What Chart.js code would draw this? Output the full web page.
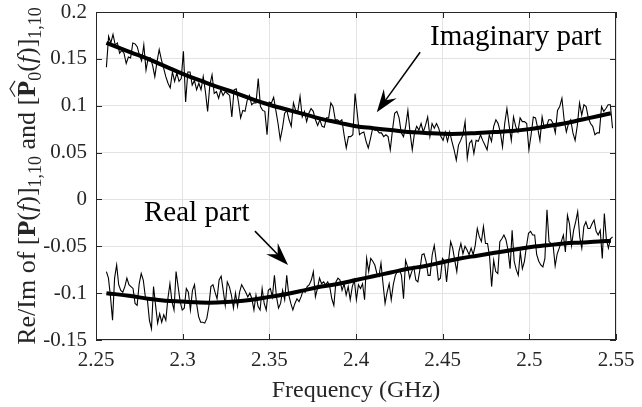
<!DOCTYPE html>
<html>
<head>
<meta charset="utf-8">
<script src="https://cdn.jsdelivr.net/npm/chart.js@4.4.1/dist/chart.umd.min.js"></script>
<style>
  html, body { margin: 0; padding: 0; background: #fff; }
  #wrap { width: 642px; height: 407px; }
</style>
</head>
<body>
<div id="wrap"><canvas id="c" width="642" height="407"></canvas></div>
<script>
var xTicks = [2.25, 2.3, 2.35, 2.4, 2.45, 2.5, 2.55];
var yTicks = [-0.15, -0.1, -0.05, 0, 0.05, 0.1, 0.15, 0.2];

// measured samples run evenly from noisyStart to noisyEnd (GHz)
var noisyStart = 2.256, noisyEnd = 2.548;

var imagNoisy = [
  0.141,0.174,0.167,0.176,0.165,0.167,0.156,0.159,0.156,0.145,0.152,0.151,0.167,0.166,0.163,0.154,0.148,0.165,0.138,0.151,
  0.151,0.143,0.131,0.147,0.160,0.149,0.140,0.131,0.124,0.119,0.136,0.126,0.135,0.126,0.129,0.158,0.104,0.136,0.136,0.122,
  0.127,0.117,0.124,0.117,0.131,0.115,0.094,0.122,0.133,0.113,0.115,0.108,0.117,0.111,0.115,
  0.113,0.111,0.088,0.117,0.118,0.104,0.087,0.095,0.094,0.106,0.111,0.101,0.103,0.103,0.129,0.099,0.095,0.094,0.069,0.104,
  0.103,0.109,0.095,0.081,0.064,0.076,0.092,0.095,0.085,0.078,0.103,0.095,0.094,0.110,0.088,0.094,0.083,0.092,0.097,0.094,
  0.085,0.079,0.085,0.078,0.077,0.087,0.087,0.103,0.099,0.085,0.085,0.083,0.085,0.069,0.055,0.067,
  0.067,0.069,0.113,0.092,0.069,0.071,0.072,0.062,0.055,0.065,0.076,0.074,0.074,0.071,0.071,0.067,0.069,0.067,0.053,0.074,
  0.092,0.094,0.087,0.071,0.067,0.078,0.095,0.071,0.053,0.071,0.078,0.074,0.081,0.072,0.079,0.088,0.067,0.081,0.076,0.081,
  0.076,0.067,0.063,0.072,0.062,0.072,0.062,0.053,0.042,0.058,0.063,0.069,0.083,0.044,0.060,0.063,0.049,0.063,
  0.062,0.069,0.063,0.058,0.053,0.069,0.062,0.078,0.085,0.081,0.072,0.056,0.081,0.097,0.079,0.063,0.088,0.078,0.072,0.087,
  0.083,0.083,0.081,0.053,0.069,0.088,0.087,0.076,0.063,0.088,0.076,0.078,0.085,0.085,0.081,0.071,0.095,0.099,0.108,0.085,
  0.072,0.081,0.085,0.071,0.063,0.079,0.103,0.090,0.101,0.099,0.087,0.081,0.078,0.069,0.071,0.071,0.099,0.094,0.097,0.101,
  0.101,0.076
];

var realNoisy = [
  -0.077,-0.084,-0.104,-0.129,-0.084,-0.070,-0.091,-0.097,-0.099,-0.093,-0.084,-0.091,-0.093,-0.095,-0.111,-0.113,-0.090,-0.079,-0.086,-0.104,
  -0.107,-0.129,-0.138,-0.093,-0.113,-0.132,-0.122,-0.131,-0.123,-0.129,-0.106,-0.090,-0.109,-0.118,-0.077,-0.093,-0.109,-0.118,-0.116,-0.095,
  -0.099,-0.118,-0.097,-0.091,-0.111,-0.125,-0.131,-0.131,-0.132,-0.127,-0.114,-0.093,-0.091,-0.099,-0.106,-0.086,-0.082,-0.097,-0.113,-0.088,
  -0.093,-0.102,-0.116,
  -0.100,-0.114,-0.099,-0.091,-0.095,-0.099,-0.104,-0.100,-0.106,-0.118,-0.102,-0.114,-0.118,-0.095,-0.111,-0.118,-0.097,-0.095,-0.104,-0.081,
  -0.104,-0.116,-0.111,-0.097,-0.107,-0.081,-0.102,-0.111,-0.118,-0.111,-0.106,-0.109,-0.104,-0.097,-0.099,-0.093,-0.091,-0.086,-0.077,-0.104,
  -0.095,-0.084,-0.090,-0.088,-0.091,-0.088,-0.093,-0.106,-0.113,-0.088,-0.084,-0.086,-0.097,-0.090,-0.102,-0.093,-0.107,-0.093,
  -0.086,-0.107,-0.091,-0.095,-0.090,-0.107,-0.063,-0.077,-0.063,-0.066,-0.070,-0.079,-0.082,-0.068,-0.090,-0.111,-0.099,-0.090,-0.107,-0.091,
  -0.081,-0.077,-0.075,-0.081,-0.106,-0.065,-0.072,-0.084,-0.077,-0.072,-0.086,-0.088,-0.075,-0.059,-0.058,-0.066,-0.081,-0.081,-0.059,-0.049,
  -0.066,-0.086,-0.084,-0.063,-0.066,-0.088,-0.066,-0.045,-0.052,-0.065,-0.077,-0.056,-0.047,-0.058,-0.050,-0.054,-0.059,-0.052,-0.059,-0.049,
  -0.031,-0.040,
  -0.045,-0.029,-0.047,-0.047,-0.061,-0.093,-0.065,-0.077,-0.079,-0.045,-0.042,-0.038,-0.043,-0.054,-0.074,-0.033,-0.066,-0.075,-0.081,-0.056,
  -0.074,-0.066,-0.050,-0.036,-0.034,-0.038,-0.038,-0.059,-0.066,-0.070,-0.072,-0.063,-0.011,-0.045,-0.047,-0.049,-0.071,-0.058,-0.052,-0.045,
  -0.038,-0.056,-0.017,-0.026,-0.049,-0.033,-0.024,-0.013,-0.040,-0.052,-0.029,-0.024,-0.031,-0.031,-0.026,-0.022,-0.034,-0.038,-0.033,-0.063,
  -0.015,-0.043,-0.052,-0.042,-0.040
];

// smooth model curves
var fitFreq = [2.256, 2.27, 2.28, 2.29, 2.30, 2.31, 2.32, 2.33, 2.34, 2.35, 2.36, 2.37, 2.38, 2.39, 2.40,
  2.41, 2.42, 2.43, 2.44, 2.45, 2.46, 2.47, 2.48, 2.49, 2.50, 2.51, 2.52, 2.53, 2.54, 2.547];
var imagFit = [0.167, 0.157, 0.150, 0.142, 0.134, 0.127, 0.120, 0.114, 0.107, 0.101, 0.096, 0.091, 0.086, 0.082, 0.078,
  0.076, 0.074, 0.072, 0.071, 0.070, 0.070, 0.071, 0.072, 0.073, 0.075, 0.078, 0.081, 0.085, 0.089, 0.092];
var realFit = [-0.100, -0.103, -0.106, -0.108, -0.109, -0.110, -0.110, -0.109, -0.107, -0.104, -0.101, -0.097, -0.093, -0.090, -0.086,
  -0.082, -0.078, -0.074, -0.071, -0.067, -0.063, -0.060, -0.057, -0.054, -0.051, -0.049, -0.047, -0.046, -0.045, -0.044];

var axisColor = '#262626';
var gridColor = '#e3e3e3';
var serif = '"Liberation Serif", "DejaVu Serif", serif';

// text + arrow annotations, in data units
var notes = [
  { text: 'Imaginary part', x: 2.4427, y: 0.1648, from: [2.437, 0.157], to: [2.412, 0.093] },
  { text: 'Real part', x: 2.2777, y: -0.0232, from: [2.3417, -0.0338], to: [2.3608, -0.070] }
];

var yTitleParts = [
  { t: 'Re/Im of [' }, { t: 'P', b: true }, { t: '(' }, { t: 'f', i: true }, { t: ')]' }, { t: '1,10', sub: true },
  { t: ' and [' }, { t: 'P', b: true, hat: true }, { t: '0', sub: true }, { t: '(' }, { t: 'f', i: true }, { t: ')]' },
  { t: '1,10', sub: true }
];

function spread(vals) {
  var step = (noisyEnd - noisyStart) / (vals.length - 1);
  return vals.map(function(v, i) { return { x: noisyStart + i * step, y: v }; });
}
function pairs(xs, ys) {
  return xs.map(function(x, i) { return { x: x, y: ys[i] }; });
}
function fmt(v) { return String(+v.toFixed(2)); }

function drawArrow(ctx, x1, y1, x2, y2) {
  var ang = Math.atan2(y2 - y1, x2 - x1);
  var L = 23, W = 16;
  var ux = Math.cos(ang), uy = Math.sin(ang), nx = -uy, ny = ux;
  ctx.beginPath();
  ctx.moveTo(x1, y1);
  ctx.lineTo(x2 - ux * L * 0.6, y2 - uy * L * 0.6);
  ctx.lineWidth = 1.5;
  ctx.stroke();
  ctx.beginPath();
  ctx.moveTo(x2, y2);
  ctx.lineTo(x2 - ux * L + nx * W / 2, y2 - uy * L + ny * W / 2);
  ctx.lineTo(x2 - ux * L * 0.65, y2 - uy * L * 0.65);
  ctx.lineTo(x2 - ux * L - nx * W / 2, y2 - uy * L - ny * W / 2);
  ctx.closePath();
  ctx.fill();
}

function drawYTitle(ctx, cx, cy) {
  function fontFor(p) {
    return (p.i ? 'italic ' : '') + (p.b ? 'bold ' : '') + (p.sub ? 18 : 26) + 'px ' + serif;
  }
  var total = 0;
  yTitleParts.forEach(function(p) {
    ctx.font = fontFor(p);
    p.w = ctx.measureText(p.t).width;
    total += p.w;
  });
  ctx.save();
  ctx.translate(cx, cy);
  ctx.rotate(-Math.PI / 2);
  ctx.fillStyle = axisColor;
  ctx.strokeStyle = axisColor;
  ctx.textAlign = 'left';
  ctx.textBaseline = 'alphabetic';
  var x = -total / 2;
  yTitleParts.forEach(function(p) {
    ctx.font = fontFor(p);
    ctx.fillText(p.t, x, p.sub ? 6 : 0);
    if (p.hat) {
      ctx.beginPath();
      ctx.lineWidth = 1.2;
      ctx.moveTo(x, -20);
      ctx.lineTo(x + p.w / 2, -25);
      ctx.lineTo(x + p.w, -20);
      ctx.stroke();
    }
    x += p.w;
  });
  ctx.restore();
}

var framePlugin = {
  id: 'frame',
  afterDatasetsDraw: function(chart) {
    var ctx = chart.ctx, a = chart.chartArea;
    var sx = chart.scales.x, sy = chart.scales.y;
    var tl = 6;
    ctx.save();
    ctx.strokeStyle = axisColor;
    ctx.lineWidth = 1;
    ctx.strokeRect(a.left + 0.5, a.top + 0.5, a.right - a.left - 1, a.bottom - a.top - 1);
    ctx.beginPath();
    xTicks.forEach(function(v) {
      var px = Math.round(sx.getPixelForValue(v)) + 0.5;
      ctx.moveTo(px, a.bottom); ctx.lineTo(px, a.bottom - tl);
      ctx.moveTo(px, a.top); ctx.lineTo(px, a.top + tl);
    });
    yTicks.forEach(function(v) {
      var py = Math.round(sy.getPixelForValue(v)) + 0.5;
      ctx.moveTo(a.left, py); ctx.lineTo(a.left + tl, py);
      ctx.moveTo(a.right, py); ctx.lineTo(a.right - tl, py);
    });
    ctx.stroke();

    ctx.fillStyle = '#000';
    ctx.strokeStyle = '#000';
    ctx.font = '29px ' + serif;
    ctx.textAlign = 'left';
    ctx.textBaseline = 'alphabetic';
    notes.forEach(function(n) {
      ctx.fillText(n.text, sx.getPixelForValue(n.x), sy.getPixelForValue(n.y));
      drawArrow(ctx,
        sx.getPixelForValue(n.from[0]), sy.getPixelForValue(n.from[1]),
        sx.getPixelForValue(n.to[0]), sy.getPixelForValue(n.to[1]));
    });

    drawYTitle(ctx, 35, (a.top + a.bottom) / 2);
    ctx.restore();
  }
};

new Chart(document.getElementById('c'), {
  type: 'line',
  data: {
    datasets: [
      { data: spread(imagNoisy), borderColor: '#000', borderWidth: 1.1, pointRadius: 0, tension: 0 },
      { data: spread(realNoisy), borderColor: '#000', borderWidth: 1.1, pointRadius: 0, tension: 0 },
      { data: pairs(fitFreq, imagFit), borderColor: '#000', borderWidth: 4, pointRadius: 0, tension: 0.4 },
      { data: pairs(fitFreq, realFit), borderColor: '#000', borderWidth: 4, pointRadius: 0, tension: 0.4 }
    ]
  },
  options: {
    responsive: false,
    animation: false,
    layout: { padding: { top: 12, right: 26, left: 0, bottom: 0 } },
    plugins: { legend: { display: false }, tooltip: { enabled: false } },
    scales: {
      x: {
        type: 'linear', min: 2.25, max: 2.55,
        afterFit: function(s) { s.height = 67; s.paddingLeft = 0; s.paddingRight = 0; },
        afterBuildTicks: function(s) { s.ticks = xTicks.map(function(v) { return { value: v }; }); },
        grid: { color: gridColor, drawTicks: false },
        border: { display: false },
        ticks: { color: axisColor, padding: 8, maxRotation: 0, font: { family: serif, size: 21 }, callback: fmt },
        title: { display: true, text: 'Frequency (GHz)', color: axisColor, font: { family: serif, size: 24 }, padding: { top: 0, bottom: 2 } }
      },
      y: {
        type: 'linear', min: -0.15, max: 0.2,
        afterFit: function(s) { s.width = 96; s.paddingTop = 0; s.paddingBottom = 0; },
        afterBuildTicks: function(s) { s.ticks = yTicks.map(function(v) { return { value: v }; }); },
        grid: { color: gridColor, drawTicks: false },
        border: { display: false },
        ticks: { color: axisColor, padding: 9, font: { family: serif, size: 21 }, callback: fmt }
      }
    }
  },
  plugins: [framePlugin]
});
</script>
</body>
</html>
